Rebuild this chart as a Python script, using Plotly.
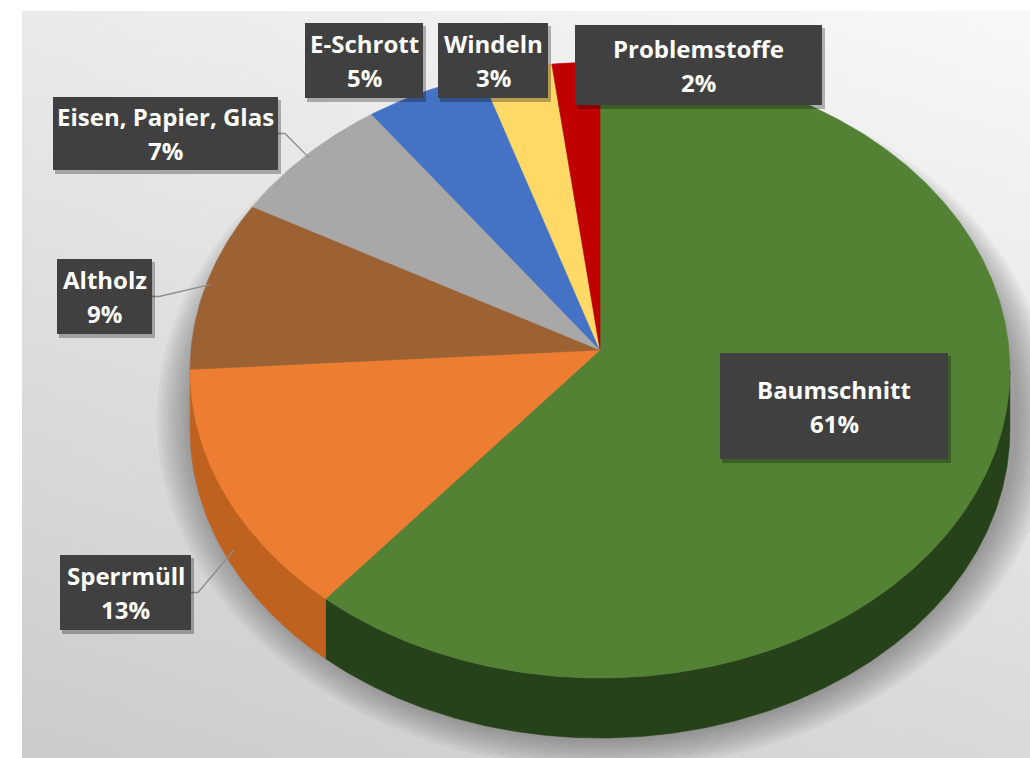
import numpy as np
import plotly.graph_objects as go

# ---------------- data ----------------
categories = ["Baumschnitt", "Sperrmüll", "Altholz", "Eisen, Papier, Glas",
              "E-Schrott", "Windeln", "Problemstoffe"]
values = [61, 13, 9, 7, 5, 3, 2]
pct_labels = ["61%", "13%", "9%", "7%", "5%", "3%", "2%"]

top_colors = ["#548235", "#ED7D31", "#9C6234", "#A8A8A8", "#4472C4", "#FFD966", "#C00000"]
side_colors = ["#27421A", "#C0621F", "#74471F", "#7F7F7F", "#2F5597", "#BF9F40", "#8F0000"]

# label boxes (x0, x1, y0, y1) in pixel space of the picture
label_boxes = {
    "Baumschnitt": (720, 948, 353, 459),
    "Sperrmüll": (60, 191, 555, 630),
    "Altholz": (57, 152, 259, 334),
    "Eisen, Papier, Glas": (53, 278, 97, 170),
    "E-Schrott": (305, 423, 23, 98),
    "Windeln": (438, 548, 23, 98),
    "Problemstoffe": (575, 822, 25, 105),
}

# ---------------- geometry ----------------
W, H = 1030, 758
CX, CY = 600, 350           # apex of the pie
A, B, P = 409, 306.7, 0.065  # half width, half depth, perspective
DEPTH = 60


def proj(theta_deg, dy=0.0, scale=1.0):
    t = np.radians(theta_deg)
    u = scale * np.sin(t)
    v = -scale * np.cos(t)
    d = 1 - P * v
    return CX + A * u / d, CY + B * v / d + dy


def arc(a, b, dy=0.0):
    n = max(3, int(abs(b - a) * 2))
    th = np.linspace(a, b, n)
    return proj(th, dy)


fig = go.Figure()

# background gradient (decoration)
nx, ny = 100, 80
xe = np.linspace(22, W + 10, nx + 1)
ye = np.linspace(11, H + 10, ny + 1)
xc = (xe[:-1] + xe[1:]) / 2
yc = (ye[:-1] + ye[1:]) / 2
XX, YY = np.meshgrid(xc, yc)
Z = 234 + 14 * (XX - 22) / 1008 - 31 * (YY - 11) / 747
fig.add_trace(go.Heatmap(x=xe, y=ye, z=Z, zmin=195, zmax=255,
                         colorscale=[[0, "rgb(195,195,195)"], [1, "rgb(255,255,255)"]],
                         showscale=False, hoverinfo="skip"))

# soft shadow under the pie
th_all = np.linspace(0, 360, 240)
for k in range(10):
    sx, sy = proj(th_all, DEPTH / 2 + 12, 1.0 + 0.012 + 0.009 * k)
    sy = sy + (sy - CY) * 0.04
    fig.add_trace(go.Scatter(x=sx + 5, y=sy, mode="lines", fill="toself",
                             fillcolor="rgba(60,60,60,0.05)", line=dict(width=0),
                             hoverinfo="skip", showlegend=False))

cum = np.concatenate([[0], np.cumsum(values)]) / sum(values) * 360.0
starts, ends = cum[:-1], cum[1:]

# silhouette angles of the side wall
th_r = np.degrees(np.arccos(-P))
th_l = 360 - th_r

# side faces (front half only)
for i, cat in enumerate(categories):
    a, b = max(starts[i], th_r), min(ends[i], th_l)
    if a < b:
        x1, y1 = arc(a, b)
        x2, y2 = arc(b, a, DEPTH)
        xs = np.concatenate([x1, x2, x1[:1]])
        ys = np.concatenate([y1, y2, y1[:1]])
        fig.add_trace(go.Scatter(x=xs, y=ys, mode="lines", fill="toself",
                                 fillcolor=side_colors[i],
                                 line=dict(width=0.6, color=side_colors[i]),
                                 hoverinfo="skip", showlegend=False))

# top faces
for i, cat in enumerate(categories):
    x1, y1 = arc(starts[i], ends[i])
    xs = np.concatenate([[CX], x1, [CX]])
    ys = np.concatenate([[CY], y1, [CY]])
    fig.add_trace(go.Scatter(x=xs, y=ys, mode="lines", fill="toself",
                             fillcolor=top_colors[i],
                             line=dict(width=0.6, color=top_colors[i]),
                             name=cat, hoverinfo="name", showlegend=False))

# leader lines for outside labels
mids = (starts + ends) / 2
leader = {"Sperrmüll": (DEPTH, 0.975), "Altholz": (0, 0.99), "Eisen, Papier, Glas": (0, 0.99)}
for i, cat in enumerate(categories):
    if cat not in leader:
        continue
    x0, x1b, y0, y1b = label_boxes[cat]
    dy, sc = leader[cat]
    ex, ey = proj(mids[i], dy, sc)
    ay = (y0 + y1b) / 2
    fig.add_trace(go.Scatter(x=[x1b, x1b + 7, ex], y=[ay, ay, ey], mode="lines",
                             line=dict(color="#8C8C8C", width=1.3),
                             hoverinfo="skip", showlegend=False))

shapes = []
annotations = []
for i, cat in enumerate(categories):
    x0, x1b, y0, y1b = label_boxes[cat]
    shapes.append(dict(type="rect", xref="x", yref="y", x0=x0 + 2, x1=x1b + 3,
                       y0=y0 + 3, y1=y1b + 4, fillcolor="rgba(0,0,0,0.28)",
                       line=dict(width=0), layer="above"))
    shapes.append(dict(type="rect", xref="x", yref="y", x0=x0, x1=x1b,
                       y0=y0, y1=y1b, fillcolor="#404040",
                       line=dict(width=0), layer="above"))
    xm = (x0 + x1b) / 2
    ym = (y0 + y1b) / 2
    for txt, off in ((cat, -17), (pct_labels[i], 17)):
        annotations.append(dict(x=xm, y=ym + off, xref="x", yref="y", text=txt,
                                showarrow=False, xanchor="center", yanchor="middle",
                                font=dict(family="Open Sans", size=24, color="white",
                                          weight="bold")))

fig.update_layout(
    width=W, height=H,
    margin=dict(l=0, r=0, t=0, b=0),
    paper_bgcolor="white", plot_bgcolor="white",
    xaxis=dict(range=[0, W], visible=False, fixedrange=True),
    yaxis=dict(range=[H, 0], visible=False, fixedrange=True),
    shapes=shapes, annotations=annotations,
    showlegend=False,
)

fig.write_html("out.html",
               config={"displayModeBar": False},
               post_script="document.body.style.margin='0';"
                           "document.body.style.overflow='hidden';")
